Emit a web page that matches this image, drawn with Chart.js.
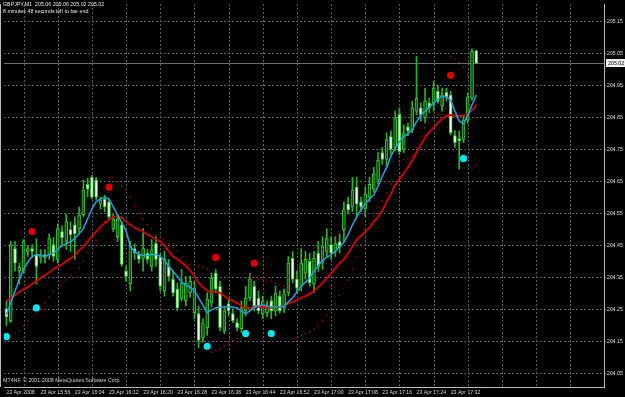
<!DOCTYPE html>
<html>
<head>
<meta charset="utf-8">
<title>GBPJPY,M1</title>
<script src="https://cdn.jsdelivr.net/npm/chart.js@4/dist/chart.umd.min.js"></script>
<style>
    html, body { margin: 0; padding: 0; background: #000; }
    #wrap { width: 625px; height: 397px; }
</style>
</head>
<body>
<div id="wrap"><canvas id="chart" width="625" height="397"></canvas></div>
<script>
// --- chart data ---
const symbolLine = 'GBPJPY,M1  205.06 205.06 205.02 205.02';
const timerLine = '8 minutes 48 seconds left to bar end';
const copyrightLine = 'MT4NF, \u00a9 2001-2008 MetaQuotes Software Corp.';

const opens = [
    204.252, 204.215, 204.441, 204.370, 204.370, 204.432, 204.441, 204.422, 204.413, 204.422,
    204.422, 204.453, 204.407, 204.494, 204.463, 204.500, 204.515, 204.503, 204.546, 204.642,
    204.664, 204.655, 204.580, 204.596, 204.587, 204.503, 204.478, 204.515, 204.370, 204.330,
    204.441, 204.422, 204.410, 204.426, 204.385, 204.456, 204.413, 204.308, 204.385, 204.345,
    204.314, 204.283, 204.277, 204.302, 204.240, 204.237, 204.162, 204.193, 204.271, 204.364,
    204.323, 204.184, 204.268, 204.237, 204.209, 204.190, 204.246, 204.286, 204.323, 204.286,
    204.237, 204.240, 204.277, 204.246, 204.292, 204.255, 204.302, 204.410, 204.345, 204.323,
    204.364, 204.401, 204.330, 204.426, 204.395, 204.432, 204.453, 204.432, 204.463, 204.500,
    204.580, 204.571, 204.633, 204.587, 204.565, 204.602, 204.627, 204.655, 204.741, 204.720,
    204.791, 204.757, 204.862, 204.751, 204.822, 204.813, 204.871, 204.881, 204.850, 204.896,
    204.890, 204.933, 204.887, 204.930, 204.921, 204.794, 204.785, 204.782, 204.843, 204.912,
    205.060
];
const highs = [
    204.277, 204.463, 204.463, 204.395, 204.469, 204.450, 204.453, 204.472, 204.438, 204.438,
    204.487, 204.475, 204.518, 204.512, 204.549, 204.525, 204.540, 204.571, 204.655, 204.661,
    204.670, 204.664, 204.602, 204.608, 204.596, 204.549, 204.549, 204.525, 204.385, 204.463,
    204.456, 204.432, 204.503, 204.438, 204.469, 204.478, 204.426, 204.432, 204.407, 204.370,
    204.333, 204.376, 204.354, 204.354, 204.339, 204.261, 204.221, 204.302, 204.364, 204.376,
    204.339, 204.261, 204.283, 204.252, 204.221, 204.277, 204.323, 204.364, 204.339, 204.308,
    204.292, 204.277, 204.292, 204.323, 204.308, 204.314, 204.416, 204.432, 204.370, 204.441,
    204.432, 204.426, 204.432, 204.463, 204.478, 204.503, 204.478, 204.478, 204.487, 204.587,
    204.602, 204.664, 204.664, 204.602, 204.633, 204.664, 204.695, 204.741, 204.757, 204.803,
    204.809, 204.871, 204.881, 204.828, 204.834, 204.902, 205.042, 204.896, 204.943, 204.912,
    204.964, 204.952, 204.943, 204.943, 204.933, 204.809, 204.809, 204.859, 204.927, 205.066,
    205.060
];
const lows = [
    204.199, 204.209, 204.370, 204.330, 204.364, 204.416, 204.413, 204.330, 204.395, 204.395,
    204.407, 204.401, 204.395, 204.447, 204.438, 204.432, 204.407, 204.487, 204.540, 204.602,
    204.596, 204.593, 204.565, 204.556, 204.531, 204.494, 204.463, 204.385, 204.339, 204.308,
    204.407, 204.395, 204.370, 204.395, 204.370, 204.385, 204.308, 204.292, 204.339, 204.292,
    204.246, 204.277, 204.261, 204.289, 204.221, 204.131, 204.147, 204.169, 204.258, 204.302,
    204.184, 204.175, 204.230, 204.209, 204.184, 204.178, 204.230, 204.277, 204.246, 204.237,
    204.221, 204.227, 204.221, 204.230, 204.240, 204.240, 204.292, 204.333, 204.302, 204.308,
    204.345, 204.323, 204.302, 204.370, 204.376, 204.416, 204.407, 204.416, 204.426, 204.463,
    204.549, 204.556, 204.540, 204.556, 204.540, 204.587, 204.617, 204.642, 204.704, 204.695,
    204.735, 204.748, 204.735, 204.741, 204.794, 204.803, 204.859, 204.840, 204.834, 204.865,
    204.871, 204.896, 204.871, 204.902, 204.797, 204.757, 204.689, 204.772, 204.834, 204.905,
    205.020
];
const closes = [
    204.227, 204.453, 204.395, 204.382, 204.463, 204.441, 204.432, 204.385, 204.422, 204.413,
    204.472, 204.416, 204.503, 204.475, 204.525, 204.484, 204.487, 204.546, 204.624, 204.627,
    204.602, 204.602, 204.593, 204.571, 204.540, 204.534, 204.534, 204.391, 204.354, 204.447,
    204.426, 204.407, 204.441, 204.407, 204.438, 204.407, 204.323, 204.407, 204.354, 204.302,
    204.255, 204.333, 204.333, 204.339, 204.317, 204.153, 204.206, 204.283, 204.348, 204.314,
    204.193, 204.246, 204.246, 204.215, 204.193, 204.255, 204.286, 204.345, 204.261, 204.246,
    204.277, 204.261, 204.246, 204.302, 204.246, 204.299, 204.395, 204.345, 204.317, 204.395,
    204.407, 204.333, 204.410, 204.385, 204.447, 204.472, 204.426, 204.456, 204.444, 204.562,
    204.562, 204.624, 204.580, 204.571, 204.611, 204.642, 204.673, 204.717, 204.720, 204.782,
    204.751, 204.850, 204.744, 204.803, 204.809, 204.881, 204.912, 204.859, 204.902, 204.881,
    204.943, 204.902, 204.921, 204.915, 204.803, 204.772, 204.778, 204.843, 204.915, 205.058,
    205.020
];
// fast moving average (blue)
const fastMA = [
    204.234, 204.271, 204.308, 204.342, 204.376, 204.398, 204.416, 204.422, 204.419, 204.416,
    204.422, 204.426, 204.438, 204.450, 204.456, 204.463, 204.472, 204.487, 204.503, 204.534,
    204.565, 204.587, 204.596, 204.602, 204.596, 204.571, 204.546, 204.521, 204.497, 204.447,
    204.432, 204.422, 204.419, 204.419, 204.422, 204.422, 204.416, 204.404, 204.385, 204.370,
    204.354, 204.336, 204.326, 204.320, 204.308, 204.286, 204.264, 204.240, 204.249, 204.255,
    204.258, 204.258, 204.258, 204.258, 204.255, 204.246, 204.237, 204.246, 204.258, 204.261,
    204.264, 204.261, 204.258, 204.258, 204.258, 204.261, 204.274, 204.286, 204.305, 204.323,
    204.336, 204.348, 204.370, 204.388, 204.404, 204.413, 204.422, 204.432, 204.447, 204.460,
    204.484, 204.515, 204.540, 204.562, 204.580, 204.596, 204.608, 204.636, 204.667, 204.695,
    204.729, 204.754, 204.775, 204.791, 204.800, 204.813, 204.837, 204.859, 204.871, 204.884,
    204.896, 204.908, 204.918, 204.915, 204.905, 204.871, 204.840, 204.831, 204.856, 204.890,
    204.921
];
// slow moving average (red)
const slowMA = [
    204.277, 204.286, 204.295, 204.305, 204.314, 204.320, 204.330, 204.339, 204.348, 204.357,
    204.367, 204.376, 204.385, 204.391, 204.401, 204.410, 204.419, 204.435, 204.447, 204.463,
    204.478, 204.494, 204.509, 204.521, 204.531, 204.540, 204.543, 204.537, 204.525, 204.515,
    204.506, 204.500, 204.494, 204.484, 204.478, 204.469, 204.463, 204.450, 204.432, 204.416,
    204.407, 204.398, 204.385, 204.373, 204.354, 204.333, 204.320, 204.308, 204.305, 204.305,
    204.302, 204.292, 204.283, 204.277, 204.271, 204.261, 204.255, 204.255, 204.258, 204.258,
    204.258, 204.255, 204.255, 204.258, 204.258, 204.261, 204.268, 204.274, 204.280, 204.286,
    204.292, 204.299, 204.308, 204.320, 204.333, 204.348, 204.364, 204.379, 204.395, 204.407,
    204.426, 204.447, 204.469, 204.481, 204.494, 204.506, 204.525, 204.540, 204.559, 204.587,
    204.611, 204.639, 204.658, 204.676, 204.695, 204.717, 204.741, 204.766, 204.788, 204.806,
    204.819, 204.834, 204.847, 204.856, 204.859, 204.856, 204.856, 204.856, 204.862, 204.874,
    204.890
];
// parabolic-style dotted stop
const sarDots = [
    204.410, 204.165, 204.175, 204.184, 204.199, 204.215, 204.227, 204.240, 204.255, 204.271,
    204.289, 204.308, 204.317, 204.330, 204.342, 204.354, 204.367, 204.379, 204.401, 204.429,
    204.447, 204.466, 204.494, 204.525, 204.664, 204.664, 204.649, 204.636, 204.624, 204.602,
    204.574, 204.552, 204.534, 204.515, 204.503, 204.484, 204.475, 204.469, 204.456, 204.444,
    204.432, 204.413, 204.398, 204.391, 204.388, 204.385, 204.382, 204.376, 204.116, 204.122,
    204.128, 204.137, 204.147, 204.153, 204.159, 204.162, 204.364, 204.354, 204.348, 204.345,
    204.345, 204.342, 204.339, 204.333, 204.330, 204.323, 204.314, 204.159, 204.162, 204.169,
    204.175, 204.178, 204.190, 204.199, 204.215, 204.234, 204.249, 204.268, 204.295, 204.317,
    204.342, 204.376, 204.416, 204.453, 204.487, 204.518, 204.543, 204.571, 204.590, 204.614,
    204.642, 204.673, 204.710, 204.720, 204.723, 204.729, 204.757, 204.788, 204.819, 204.834,
    204.843, 204.859, 204.862, 204.881, 205.042, 205.032, 205.023, 205.008, 204.983, 204.692,
    204.701
];
const sellBars = [6, 24, 49, 58, 104];
const sellPrices = [204.494, 204.633, 204.413, 204.395, 204.983];
const buyBars = [0, 7, 47, 56, 62, 107];
const buyPrices = [204.165, 204.255, 204.135, 204.175, 204.175, 204.723];

const priceTicks = [204.05, 204.15, 204.25, 204.35, 204.45, 204.55, 204.65, 204.75, 204.85, 204.95, 205.05, 205.15];
const timeLabels = ['23 Apr 2008', '23 Apr 15:56', '23 Apr 16:04', '23 Apr 16:12', '23 Apr 16:20',
    '23 Apr 16:28', '23 Apr 16:36', '23 Apr 16:44', '23 Apr 16:52', '23 Apr 17:00',
    '23 Apr 17:08', '23 Apr 17:16', '23 Apr 17:24', '23 Apr 17:32'];
const labelBars = timeLabels.map((t, i) => i * 8);
const gridBars = [4, 12, 20, 28, 36, 44, 52, 60, 68, 76, 84, 92, 100, 108, 116, 124, 132];
const lastPrice = 205.02;

const xMin = -0.58, xMax = 139.9;
const yMin = 204.0076, yMax = 205.2057;

const FONT = 'Liberation Sans';
const GRID = '#56636f';
const FRAME = '#b8b8b8';

// --- build datasets ---
const bull = closes.map((c, i) => c >= opens[i]);
const wickData = highs.map((h, i) => ({ x: i, y: [lows[i], h] }));
const bodyData = opens.map((o, i) => ({ x: i, y: [o, closes[i]] }));
const toPts = arr => arr.map((v, i) => ({ x: i, y: v }));

const mtOverlay = {
    id: 'mtOverlay',
    beforeDatasetsDraw(chart) {
        const { ctx, chartArea: a, scales } = chart;
        ctx.save();
        ctx.lineWidth = 1;
        ctx.strokeStyle = GRID;
        ctx.setLineDash([2, 2]);
        gridBars.forEach(b => {
            const px = Math.round(scales.x.getPixelForValue(b)) + 0.5;
            if (px >= a.right) return;
            ctx.beginPath();
            ctx.moveTo(px, a.top);
            ctx.lineTo(px, a.bottom);
            ctx.stroke();
        });
        ctx.setLineDash([]);
        const py = Math.round(scales.y.getPixelForValue(lastPrice)) + 0.5;
        ctx.strokeStyle = '#6e6e6e';
        ctx.beginPath();
        ctx.moveTo(a.left, py);
        ctx.lineTo(a.right, py);
        ctx.stroke();
        ctx.restore();
    },
    afterDraw(chart) {
        const { ctx, chartArea: a, scales } = chart;
        ctx.save();
        ctx.strokeStyle = FRAME;
        ctx.lineWidth = 1;
        ctx.beginPath();
        ctx.moveTo(0.5, a.top);
        ctx.lineTo(0.5, a.bottom);
        ctx.stroke();

        ctx.font = '5.3px "' + FONT + '"';
        ctx.fillStyle = '#e6e6e6';
        ctx.textBaseline = 'middle';
        ctx.textAlign = 'left';
        ctx.fillText(symbolLine, 3, 5);
        ctx.fillText(timerLine, 3, 12);
        ctx.fillStyle = '#cfcfcf';
        ctx.fillText(copyrightLine, 3, 381);

        // current price tag on the axis
        const py = Math.round(scales.y.getPixelForValue(lastPrice));
        ctx.fillStyle = '#f0f0f0';
        ctx.fillRect(a.right + 2, py - 4, 19, 8);
        ctx.fillStyle = '#000';
        ctx.fillText(lastPrice.toFixed(2), a.right + 4, py + 0.5);
        ctx.restore();
    }
};

new Chart(document.getElementById('chart'), {
    type: 'bar',
    data: {
        datasets: [
            {
                type: 'scatter', label: 'sell', data: sellBars.map((b, i) => ({ x: b, y: sellPrices[i] })),
                pointRadius: 3.6, pointBackgroundColor: '#e00000', pointBorderWidth: 0, order: 0
            },
            {
                type: 'scatter', label: 'buy', data: buyBars.map((b, i) => ({ x: b, y: buyPrices[i] })),
                pointRadius: 3.6, pointBackgroundColor: '#00e6f2', pointBorderWidth: 0, order: 0
            },
            {
                type: 'line', label: 'fast', data: toPts(fastMA),
                borderColor: '#1e9fdc', borderWidth: 1.6, pointRadius: 0, tension: 0, order: 1
            },
            {
                type: 'line', label: 'slow', data: toPts(slowMA),
                borderColor: '#dc0000', borderWidth: 1.8, pointRadius: 0, tension: 0, order: 1
            },
            {
                type: 'line', label: 'sar', data: toPts(sarDots), showLine: false,
                pointStyle: 'rect', pointRadius: 1, pointBackgroundColor: '#a80c0c', pointBorderWidth: 0, order: 1
            },
            {
                label: 'body', data: bodyData, grouped: false, barThickness: 3, minBarLength: 1,
                backgroundColor: bull.map(b => b ? '#125212' : '#ecffe8'),
                borderColor: '#30c830', borderWidth: 1, borderSkipped: false, order: 2
            },
            {
                label: 'wick', data: wickData, grouped: false, barThickness: 1,
                backgroundColor: '#22b822', borderWidth: 0, order: 3
            }
        ]
    },
    options: {
        responsive: false,
        animation: false,
        devicePixelRatio: 1,
        layout: { padding: 0 },
        plugins: { legend: { display: false }, tooltip: { enabled: false } },
        scales: {
            x: {
                type: 'linear', position: 'bottom', min: xMin, max: xMax, offset: false,
                afterBuildTicks: s => { s.ticks = labelBars.map(v => ({ value: v })); },
                afterFit: s => { s.height = 10; },
                ticks: {
                    color: '#d6d6d6', font: { family: FONT, size: 5.2 }, padding: 2,
                    align: 'start', autoSkip: false, maxRotation: 0,
                    callback: (v, i) => timeLabels[i]
                },
                grid: { display: false, drawTicks: false },
                border: { display: true, color: FRAME }
            },
            y: {
                type: 'linear', position: 'right', min: yMin, max: yMax,
                afterBuildTicks: s => { s.ticks = priceTicks.map(v => ({ value: v })); },
                afterFit: s => { s.width = 21; },
                ticks: {
                    color: '#d6d6d6', font: { family: FONT, size: 5.2 }, padding: 1,
                    callback: v => Number(v).toFixed(2)
                },
                grid: { color: GRID, lineWidth: 1, drawTicks: true, tickLength: 2, tickColor: GRID },
                border: { display: true, color: FRAME, dash: [2, 2] }
            }
        }
    },
    plugins: [mtOverlay]
});
</script>
</body>
</html>
